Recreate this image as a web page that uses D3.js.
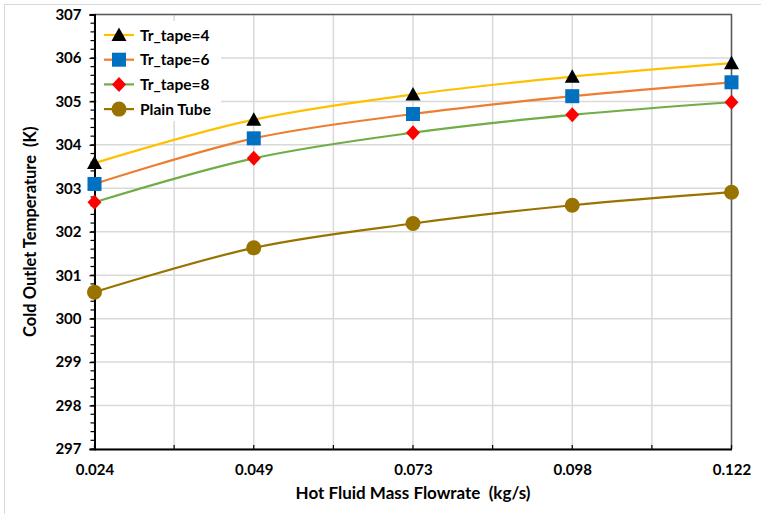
<!DOCTYPE html>
<html><head><meta charset="utf-8">
<script src="https://cdn.jsdelivr.net/npm/d3@7"></script>
<style>body{margin:0;background:#fff}svg{display:block}</style>
</head><body><div id="chart"></div>
<script>
const xLabels = ["0.024","0.049","0.073","0.098","0.122"];
const yTicks = [297,298,299,300,301,302,303,304,305,306,307];
const tape4 = [303.58, 304.58, 305.16, 305.57, 305.88];
const tape6 = [303.10, 304.15, 304.71, 305.12, 305.44];
const tape8 = [302.68, 303.69, 304.28, 304.69, 304.98];
const plain = [300.61, 301.63, 302.19, 302.61, 302.91];
const seriesNames = ["Tr_tape=4","Tr_tape=6","Tr_tape=8","Plain Tube"];

const W = 761, H = 514;
const m = {l:94.5, r:731.5, t:14.5, b:449};
const font = "Lato, 'Open Sans', sans-serif";

const svg = d3.select("#chart").append("svg").attr("width",W).attr("height",H);
svg.append("rect").attr("x",4.5).attr("y",4.5).attr("width",W+10).attr("height",H+10)
  .attr("fill","#fff").attr("stroke","#D9D9D9");

const x = d3.scalePoint().domain(xLabels).range([m.l, m.r]).padding(0);
const y = d3.scaleLinear().domain([297,307]).range([m.b, m.t]);

// gridlines
const g = svg.append("g");
const xs = xLabels.map(d=>x(d));
const mids = xs.slice(0,-1).map((v,i)=>(v+xs[i+1])/2);
g.selectAll(".vg").data(xs.concat(mids)).join("line")
  .attr("x1",d=>d).attr("x2",d=>d).attr("y1",m.t).attr("y2",m.b)
  .attr("stroke","#D9D9D9").attr("stroke-width",1.5);
g.selectAll(".hg").data(yTicks).join("line")
  .attr("x1",m.l).attr("x2",m.r).attr("y1",d=>y(d)).attr("y2",d=>y(d))
  .attr("stroke","#D9D9D9").attr("stroke-width",1.5);

// plot border top/right
svg.append("path").attr("d",`M${m.l},${m.t}H${m.r}V${m.b}`)
  .attr("fill","none").attr("stroke","#595959").attr("stroke-width",1.5);

// y axis with minor ticks
const yMinor = d3.range(297,307.001,0.2);
svg.append("g").selectAll("line").data(yMinor).join("line")
  .attr("x1",m.l-4).attr("x2",m.l).attr("y1",d=>y(d)).attr("y2",d=>y(d))
  .attr("stroke","#000").attr("stroke-width",1.2);
const yAxis = d3.axisLeft(y).tickValues(yTicks).tickSize(5).tickPadding(8).tickFormat(d3.format("d"));
const ya = svg.append("g").attr("transform",`translate(${m.l},0)`).call(yAxis);
ya.select(".domain").attr("stroke","#000").attr("stroke-width",2);
ya.selectAll(".tick line").attr("stroke","#000").attr("stroke-width",1.2);
ya.selectAll("text").attr("font-family",font).attr("font-weight","bold").attr("font-size","15px").attr("fill","#000");

// x axis, inward ticks
const xa = svg.append("g").attr("transform",`translate(0,${m.b})`)
  .call(d3.axisBottom(x).tickSize(0).tickPadding(15));
xa.select(".domain").attr("stroke","#000").attr("stroke-width",2);
xa.selectAll("text").attr("font-family",font).attr("font-weight","bold").attr("font-size","15px").attr("fill","#000");
svg.append("g").selectAll("line").data(xs.concat(mids)).join("line")
  .attr("x1",d=>d).attr("x2",d=>d).attr("y1",m.b-4).attr("y2",m.b)
  .attr("stroke","#000").attr("stroke-width",1.2);

// titles
svg.append("text").attr("x",(m.l+m.r)/2).attr("y",499).attr("text-anchor","middle")
  .attr("font-family",font).attr("font-weight","bold").attr("font-size","17px")
  .attr("xml:space","preserve").text("Hot Fluid Mass Flowrate  (kg/s)");
svg.append("text").attr("transform",`translate(36,${(m.t+m.b)/2}) rotate(-90)`).attr("text-anchor","middle")
  .attr("font-family",font).attr("font-weight","bold").attr("font-size","16.5px")
  .attr("xml:space","preserve").text("Cold Outlet Temperature  (K)");

// series
const series = [
  {name:seriesNames[0], vals:tape4, line:"#FFC000", mfill:"#000", shape:"tri"},
  {name:seriesNames[1], vals:tape6, line:"#ED7D31", mfill:"#0070C0", shape:"sq"},
  {name:seriesNames[2], vals:tape8, line:"#70AD47", mfill:"#FF0000", shape:"dia"},
  {name:seriesNames[3], vals:plain, line:"#997300", mfill:"#997300", shape:"circ"}
];
const lineGen = d3.line().x((d,i)=>x(xLabels[i])).y(d=>y(d)).curve(d3.curveCatmullRom.alpha(0.5));
function marker(sel, shape, color, cx, cy){
  if(shape==="tri") sel.append("path").attr("d",`M${cx},${cy-7.5}L${cx+7.5},${cy+6}L${cx-7.5},${cy+6}Z`).attr("fill",color);
  else if(shape==="sq") sel.append("rect").attr("x",cx-7).attr("y",cy-7).attr("width",14).attr("height",14).attr("fill",color);
  else if(shape==="dia") sel.append("path").attr("d",`M${cx},${cy-7.5}L${cx+7},${cy}L${cx},${cy+7.5}L${cx-7},${cy}Z`).attr("fill",color);
  else sel.append("circle").attr("cx",cx).attr("cy",cy).attr("r",7.5).attr("fill",color);
}
const sg = svg.append("g");
series.slice().reverse().forEach(s=>{
  sg.append("path").attr("d",lineGen(s.vals)).attr("fill","none").attr("stroke",s.line).attr("stroke-width",2.2);
});
series.slice().reverse().forEach(s=>{
  s.vals.forEach((v,i)=>marker(sg, s.shape, s.mfill, x(xLabels[i]), y(v)));
});

// legend
const lg = svg.append("g");
lg.append("rect").attr("x",97).attr("y",21).attr("width",124).attr("height",100).attr("fill","#fff");
series.forEach((s,i)=>{
  const ly = 35 + i*24.7;
  lg.append("line").attr("x1",104).attr("x2",134).attr("y1",ly).attr("y2",ly).attr("stroke",s.line).attr("stroke-width",2.2);
  marker(lg, s.shape, s.mfill, 119, ly);
  lg.append("text").attr("x",140).attr("y",ly+5.5).attr("font-family",font).attr("font-weight","bold")
    .attr("font-size","15.5px").attr("fill","#000").text(s.name);
});
</script>
</body></html>
